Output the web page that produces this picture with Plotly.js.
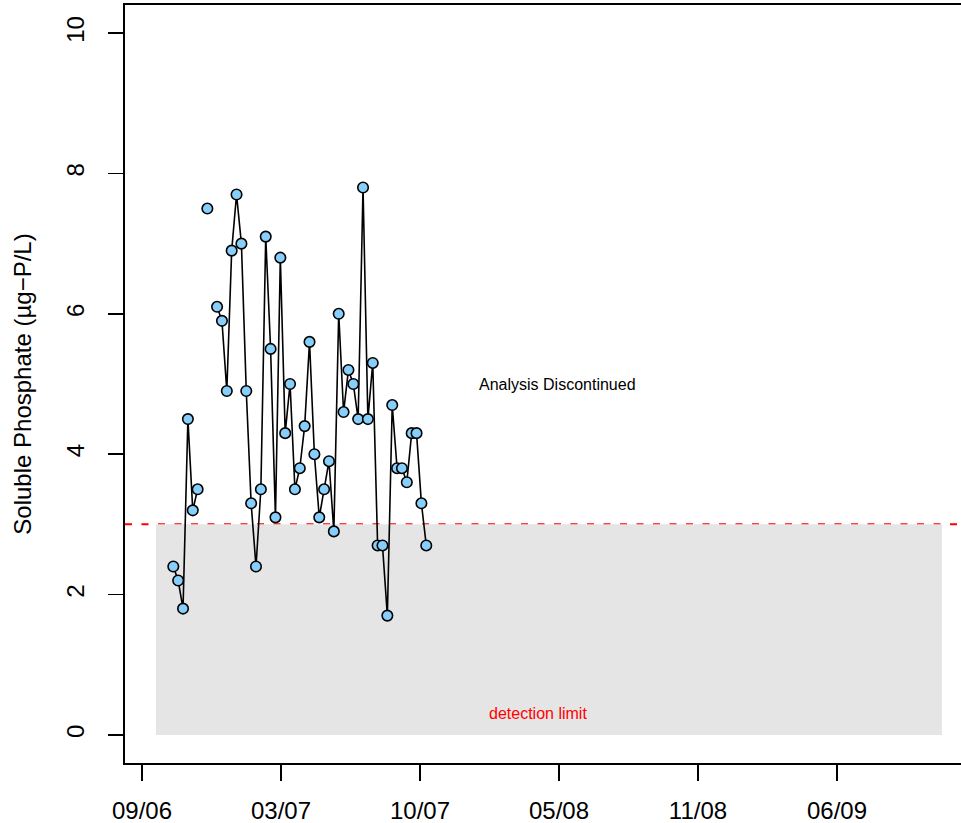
<!DOCTYPE html>
<html>
<head>
<meta charset="utf-8">
<script src="https://cdn.plot.ly/plotly-3.0.1.min.js"></script>
<style>
  html, body { margin: 0; padding: 0; background: #ffffff; overflow: hidden; }
  #chart { width: 961px; height: 823px; }
</style>
</head>
<body>
<div id="chart"></div>
<script>
// Weekly soluble phosphate samples (null = no sample that week)
const sampleDates = [
  "2006-10-25", "2006-11-01", "2006-11-08", "2006-11-15", "2006-11-22", "2006-11-29",
  "2006-12-06", "2006-12-13", "2006-12-20", "2006-12-27", "2007-01-03", "2007-01-10",
  "2007-01-17", "2007-01-24", "2007-01-31", "2007-02-07", "2007-02-14", "2007-02-21",
  "2007-02-28", "2007-03-07", "2007-03-14", "2007-03-21", "2007-03-28", "2007-04-04",
  "2007-04-11", "2007-04-18", "2007-04-25", "2007-05-02", "2007-05-09", "2007-05-16",
  "2007-05-23", "2007-05-30", "2007-06-06", "2007-06-13", "2007-06-20", "2007-06-27",
  "2007-07-04", "2007-07-11", "2007-07-18", "2007-07-25", "2007-08-01", "2007-08-08",
  "2007-08-15", "2007-08-22", "2007-08-29", "2007-09-05", "2007-09-12", "2007-09-19",
  "2007-09-26", "2007-10-03", "2007-10-10", "2007-10-17", "2007-10-24"
];
const phosphate = [
  2.4, 2.2, 1.8, 4.5, 3.2, 3.5,
  null, 7.5, null, 6.1, 5.9, 4.9,
  6.9, 7.7, 7.0, 4.9, 3.3, 2.4,
  3.5, 7.1, 5.5, 3.1, 6.8, 4.3,
  5.0, 3.5, 3.8, 4.4, 5.6, 4.0,
  3.1, 3.5, 3.9, 2.9, 6.0, 4.6,
  5.2, 5.0, 4.5, 7.8, 4.5, 5.3,
  2.7, 2.7, 1.7, 4.7, 3.8, 3.8,
  3.6, 4.3, 4.3, 3.3, 2.7
];

// Axis ticks (every 200 days) and their labels
const tickDates = ["2006-09-10", "2007-03-29", "2007-10-15", "2008-05-02", "2008-11-18", "2009-06-06"];
const tickLabels = ["09/06", "03/07", "10/07", "05/08", "11/08", "06/09"];
const yTicks = [0, 2, 4, 6, 8, 10];

// Monitoring period and detection limit
const periodStart = "2006-09-30";
const periodEnd = "2009-11-04";
const detectionLimit = 3;
const xRange = ["2006-08-16 12:00", "2009-12-01 10:00"];
const yRange = [-0.4, 10.4];

const font = "Liberation Sans, Arial, Helvetica, sans-serif";

const trace = {
  x: sampleDates,
  y: phosphate,
  type: "scatter",
  mode: "lines+markers",
  connectgaps: false,
  line: { color: "#000000", width: 1.6 },
  marker: {
    size: 10.5,
    color: "#87CEFA",
    line: { color: "#000000", width: 1.6 }
  },
  hoverinfo: "x+y",
  showlegend: false
};

const layout = {
  width: 961,
  height: 823,
  margin: { l: 125, r: 0, t: 5, b: 60 },
  paper_bgcolor: "#ffffff",
  plot_bgcolor: "#ffffff",
  font: { family: font, color: "#000000" },
  xaxis: {
    type: "date",
    range: xRange,
    tickmode: "array",
    tickvals: tickDates,
    ticktext: tickLabels,
    ticks: "outside",
    ticklen: 16,
    tickwidth: 1.4,
    tickcolor: "#000000",
    tickfont: { family: font, size: 24, color: "#000000" },
    ticklabelstandoff: 10,
    showgrid: false,
    zeroline: false,
    showline: true,
    mirror: true,
    linecolor: "#000000",
    linewidth: 1.6
  },
  yaxis: {
    range: yRange,
    tickmode: "array",
    tickvals: yTicks,
    ticktext: yTicks.map(String),
    tickangle: -90,
    ticks: "outside",
    ticklen: 15,
    tickwidth: 1.4,
    tickcolor: "#000000",
    tickfont: { family: font, size: 24, color: "#000000" },
    ticklabelstandoff: 15,
    showgrid: false,
    zeroline: false,
    showline: true,
    mirror: false,
    linecolor: "#000000",
    linewidth: 1.6,
    title: {
      text: "Soluble Phosphate (µg\u2212P/L)",
      font: { family: font, size: 24, color: "#000000" },
      standoff: 23
    }
  },
  shapes: [
    {
      type: "rect", layer: "below",
      xref: "x", yref: "y",
      x0: periodStart, x1: periodEnd, y0: 0, y1: detectionLimit,
      fillcolor: "#E5E5E5",
      line: { width: 0 }
    },
    {
      type: "line", layer: "below",
      xref: "paper", yref: "y",
      x0: 0, x1: 1, y0: detectionLimit, y1: detectionLimit,
      line: { color: "#FF0000", width: 2, dash: "7px,9.5px" }
    }
  ],
  annotations: [
    {
      x: "2008-04-30", y: 5, xref: "x", yref: "y",
      text: "Analysis Discontinued",
      showarrow: false, xanchor: "center", yanchor: "middle",
      font: { family: font, size: 16, color: "#000000" }
    },
    {
      x: "2008-04-02", y: 0.3, xref: "x", yref: "y",
      text: "detection limit",
      showarrow: false, xanchor: "center", yanchor: "middle",
      font: { family: font, size: 16, color: "#FF0000" }
    }
  ]
};

Plotly.newPlot("chart", [trace], layout, { displayModeBar: false, staticPlot: true });
</script>
</body>
</html>
